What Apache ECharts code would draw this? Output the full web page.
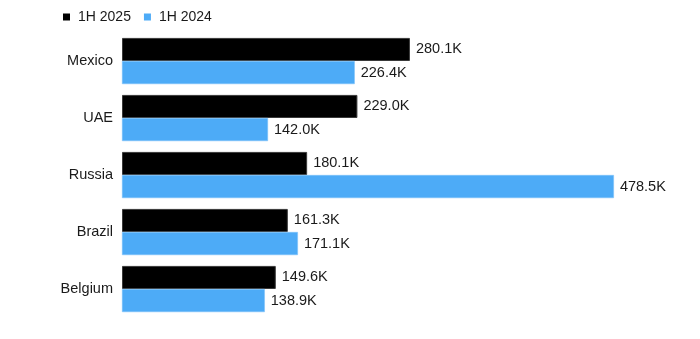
<!DOCTYPE html>
<html><head><meta charset="utf-8">
<script src="https://cdn.jsdelivr.net/npm/echarts@6/dist/echarts.min.js"></script>
<style>html,body{margin:0;padding:0;background:#fff}#c{width:700px;height:339px}</style>
</head><body><div id="c"></div>
<script>
const categories = ["Mexico", "UAE", "Russia", "Brazil", "Belgium"];
const series2025 = [280.1, 229.0, 180.1, 161.3, 149.6];
const series2024 = [226.4, 142.0, 478.5, 171.1, 138.9];
const seriesNames = ["1H 2025", "1H 2024"];

const chart = echarts.init(document.getElementById('c'), null, {renderer: 'canvas'});
const font = '"Liberation Sans", Arial, sans-serif';
const lbl = {
  show: true, position: 'right', distance: 6,
  color: '#1a1a1a', fontSize: 14.5, fontFamily: font,
  formatter: p => p.value.toFixed(1) + 'K'
};
chart.setOption({
  animation: false,
  legend: {
    left: 58, top: 5, itemWidth: 7, itemHeight: 7, itemGap: 13,
    icon: 'rect',
    itemStyle: {borderWidth: 0},
    textStyle: {fontSize: 14, color: '#1a1a1a', fontFamily: font, padding: [0,0,0,3]},
    data: seriesNames
  },
  grid: {left: 122, width: 514, top: 32.5, height: 285, containLabel: false},
  xAxis: {type: 'value', min: 0, max: 500, show: false},
  yAxis: {
    type: 'category', data: categories, inverse: true,
    axisLine: {show: false}, axisTick: {show: false},
    axisLabel: {fontSize: 14.5, color: '#1a1a1a', fontFamily: font, margin: 9}
  },
  series: [
    {name: seriesNames[0], type: 'bar', data: series2025, barGap: '0%', barCategoryGap: '19%',
     itemStyle: {color: '#000', borderColor: '#3a3a3a', borderWidth: 1}, label: lbl},
    {name: seriesNames[1], type: 'bar', data: series2024,
     itemStyle: {color: '#4dabf7', borderColor: '#7cc0f8', borderWidth: 0.5}, label: lbl}
  ]
});
</script></body></html>
